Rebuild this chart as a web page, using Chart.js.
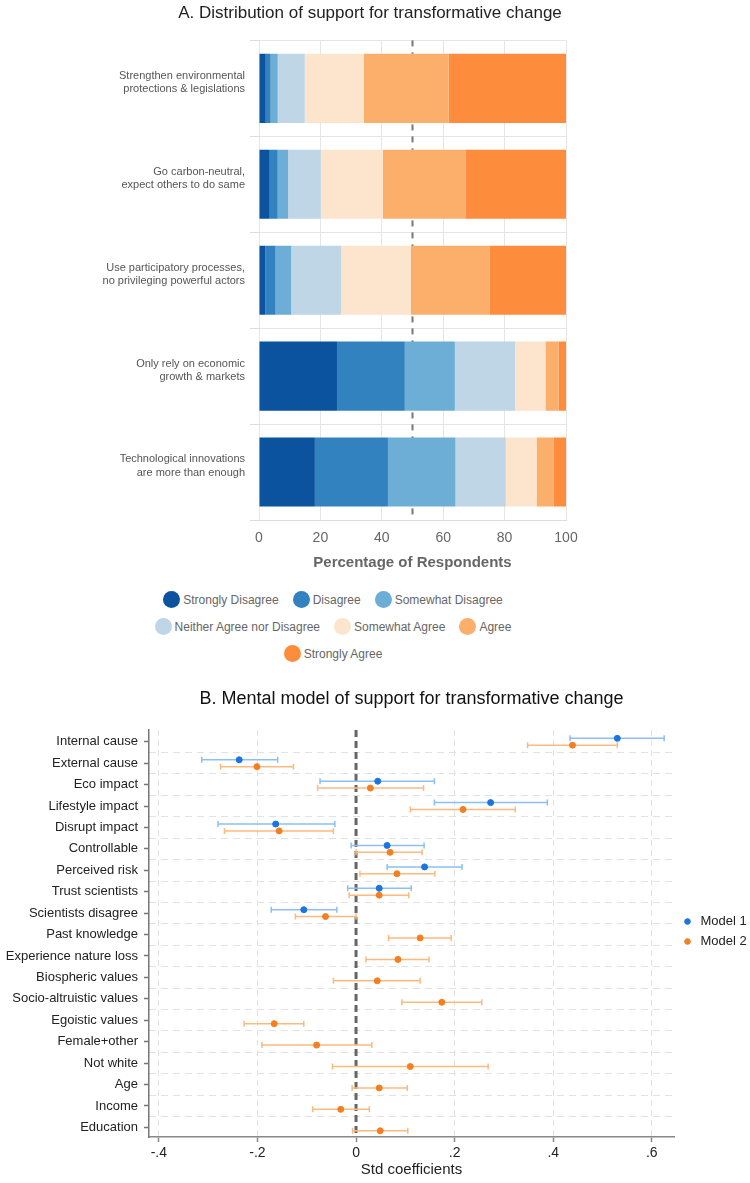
<!DOCTYPE html>
<html>
<head>
<meta charset="utf-8">
<script src="https://cdn.jsdelivr.net/npm/chart.js@4.4.1/dist/chart.umd.min.js"></script>
<style>
  body { margin: 0; background: #fff; width: 750px; height: 1183px; position: relative; overflow: hidden;
         font-family: "Liberation Sans", Arial, sans-serif; }
  #wrapA { position: absolute; left: 0; top: 0; width: 750px; height: 580px; }
  #wrapB { position: absolute; left: 0; top: 680px; width: 750px; height: 503px; }
  #legendA { position: absolute; left: 133px; top: 586px; width: 400px; display: flex; flex-wrap: wrap; justify-content: center; }
  .lg-item { display: flex; align-items: center; height: 27px; margin: 0 7px; font-size: 12px; color: #666; }
  .lg-dot { width: 17px; height: 17px; border-radius: 50%; margin-right: 3px; }
</style>
</head>
<body>
<div id="wrapA"><canvas id="chartA" width="750" height="580"></canvas></div>
<div id="legendA"></div>
<div id="wrapB"><canvas id="chartB" width="750" height="503"></canvas></div>
<script>
"use strict";
// ---- panel A: share of respondents per answer (percent) ----
const policyLabels = [
    ['Strengthen environmental', 'protections & legislations'],
    ['Go carbon-neutral,', 'expect others to do same'],
    ['Use participatory processes,', 'no privileging powerful actors'],
    ['Only rely on economic', 'growth & markets'],
    ['Technological innovations', 'are more than enough']
];
const responseLevels = ['Strongly Disagree', 'Disagree', 'Somewhat Disagree', 'Neither Agree nor Disagree',
    'Somewhat Agree', 'Agree', 'Strongly Agree'];
const levelColors = ['#0b539e', '#3282bf', '#6caed6', '#bed6e6', '#fde5cd', '#fcae6b', '#fd8d3c'];
const stronglyDisagree = [2.2, 3.5, 2.0, 25.4, 18.2];
const disagree = [1.6, 2.6, 3.4, 22.1, 23.8];
const somewhatDisagree = [2.3, 3.4, 5.1, 16.3, 22.0];
const neitherAgree = [8.8, 10.6, 16.3, 19.6, 16.4];
const somewhatAgree = [19.2, 20.2, 22.7, 9.9, 10.0];
const agree = [27.7, 27.1, 25.7, 4.3, 5.6];
const stronglyAgree = [38.2, 32.6, 24.8, 2.4, 4.0];
const levelValues = [stronglyDisagree, disagree, somewhatDisagree, neitherAgree, somewhatAgree, agree, stronglyAgree];

// ---- panel B: standardized coefficients with 95% CI ----
const predictors = ['Internal cause', 'External cause', 'Eco impact', 'Lifestyle impact', 'Disrupt impact',
    'Controllable', 'Perceived risk', 'Trust scientists', 'Scientists disagree', 'Past knowledge',
    'Experience nature loss', 'Biospheric values', 'Socio-altruistic values', 'Egoistic values',
    'Female+other', 'Not white', 'Age', 'Income', 'Education'];
const model1Coef = [0.530, -0.237, 0.044, 0.273, -0.163, 0.063, 0.139, 0.047, -0.106,
    null, null, null, null, null, null, null, null, null, null];
const model1Low = [0.434, -0.313, -0.073, 0.159, -0.280, -0.010, 0.063, -0.017, -0.172,
    null, null, null, null, null, null, null, null, null, null];
const model1High = [0.625, -0.159, 0.159, 0.388, -0.043, 0.138, 0.215, 0.112, -0.039,
    null, null, null, null, null, null, null, null, null, null];
const model2Coef = [0.439, -0.201, 0.029, 0.217, -0.156, 0.069, 0.083, 0.047, -0.062,
    0.130, 0.085, 0.043, 0.174, -0.166, -0.080, 0.110, 0.047, -0.031, 0.049];
const model2Low = [0.348, -0.275, -0.078, 0.110, -0.267, 0.000, 0.008, -0.014, -0.123,
    0.066, 0.020, -0.046, 0.093, -0.227, -0.191, -0.048, -0.008, -0.088, -0.007];
const model2High = [0.530, -0.127, 0.137, 0.323, -0.046, 0.134, 0.160, 0.107, 0.000,
    0.193, 0.148, 0.130, 0.255, -0.106, 0.032, 0.268, 0.104, 0.027, 0.105];
const coefTicks = [-0.4, -0.2, 0, 0.2, 0.4, 0.6];

const FONT = '"Liberation Sans", Arial, sans-serif';
Chart.defaults.font.family = FONT;

// vertical dashed reference line at a given x value
const refLinePlugin = {
    id: 'refLine',
    beforeDatasetsDraw(chart, args, opts) {
        const x = chart.scales.x.getPixelForValue(opts.value);
        const area = chart.chartArea;
        const ctx = chart.ctx;
        ctx.save();
        ctx.strokeStyle = opts.color;
        ctx.lineWidth = opts.width;
        ctx.setLineDash(opts.dash);
        ctx.beginPath();
        ctx.moveTo(x, area.top);
        ctx.lineTo(x, area.bottom);
        ctx.stroke();
        ctx.restore();
    }
};

// horizontal confidence interval whiskers under each point
const errorBarPlugin = {
    id: 'errorBars',
    beforeDatasetsDraw(chart, args, opts) {
        const ctx = chart.ctx;
        const xs = chart.scales.x;
        chart.data.datasets.forEach((ds, di) => {
            const meta = chart.getDatasetMeta(di);
            ctx.save();
            ctx.strokeStyle = ds.whiskerColor;
            ctx.lineWidth = opts.width;
            meta.data.forEach((pt, i) => {
                const d = ds.data[i];
                const x1 = xs.getPixelForValue(d.lo);
                const x2 = xs.getPixelForValue(d.hi);
                const y = pt.y;
                ctx.beginPath();
                ctx.moveTo(x1, y); ctx.lineTo(x2, y);
                ctx.moveTo(x1, y - opts.cap); ctx.lineTo(x1, y + opts.cap);
                ctx.moveTo(x2, y - opts.cap); ctx.lineTo(x2, y + opts.cap);
                ctx.stroke();
            });
            ctx.restore();
        });
    }
};

// ---------- chart A ----------
const chartA = new Chart(document.getElementById('chartA'), {
    type: 'bar',
    data: {
        labels: policyLabels,
        datasets: responseLevels.map((lvl, k) => ({
            label: lvl,
            data: levelValues[k],
            backgroundColor: levelColors[k],
            borderWidth: 0,
            barPercentage: 0.72,
            categoryPercentage: 1
        }))
    },
    options: {
        indexAxis: 'y',
        responsive: false,
        animation: false,
        layout: { padding: { left: 0, right: 10, top: 0, bottom: 0 } },
        plugins: {
            legend: { display: false },
            tooltip: { enabled: false },
            title: {
                display: true,
                text: 'A. Distribution of support for transformative change',
                color: '#222',
                font: { size: 17, weight: 'normal' },
                padding: { top: 3, bottom: 17 }
            },
            refLine: { value: 50, color: '#777', width: 2, dash: [6, 6] }
        },
        scales: {
            x: {
                stacked: true, min: 0, max: 100,
                ticks: { stepSize: 20, color: '#666', font: { size: 14 }, padding: 10 },
                grid: { color: '#e5e5e5', drawTicks: false },
                border: { color: '#ddd' },
                title: {
                    display: true, text: 'Percentage of Respondents', color: '#666',
                    font: { size: 15, weight: 'bold' }, padding: { top: 0, bottom: 8 }
                },
                afterFit: s => { s.height = 60; }
            },
            y: {
                stacked: true,
                ticks: { color: '#555', font: { size: 11 }, padding: 5, labelOffset: -6 },
                grid: { color: '#e5e5e5', tickLength: 9, tickColor: '#ddd' },
                border: { display: false },
                afterFit: s => { s.width = 259; }
            },
            // empty space to the right of the bars
            yPad: {
                type: 'linear', position: 'right',
                ticks: { display: false }, grid: { display: false }, border: { display: false },
                afterFit: s => { s.width = 174; }
            }
        }
    },
    plugins: [refLinePlugin]
});

// legend for A, built from the chart's datasets
const legendA = document.getElementById('legendA');
chartA.data.datasets.forEach(ds => {
    const item = document.createElement('div');
    item.className = 'lg-item';
    item.innerHTML = '<span class="lg-dot" style="background:' + ds.backgroundColor + '"></span>' + ds.label;
    legendA.appendChild(item);
});

// ---------- chart B ----------
function coefPoints(coef, low, high, shift) {
    return predictors.map((p, i) => ({ x: coef[i], y: i + shift, lo: low[i], hi: high[i] }))
        .filter(d => d.x !== null);
}
function fmtCoef(v) {
    const r = Math.round(v * 10) / 10;
    if (r === 0) return '0';
    return (r < 0 ? '-' : '') + String(Math.abs(r)).replace(/^0/, '');
}

new Chart(document.getElementById('chartB'), {
    type: 'scatter',
    data: {
        datasets: [
            {
                label: 'Model 1',
                data: coefPoints(model1Coef, model1Low, model1High, -0.16),
                backgroundColor: '#1b74e4', borderColor: '#1b74e4',
                whiskerColor: '#8dbff5',
                pointRadius: 3, pointStyle: 'circle'
            },
            {
                label: 'Model 2',
                data: coefPoints(model2Coef, model2Low, model2High, 0.16),
                backgroundColor: '#f57e20', borderColor: '#f57e20',
                whiskerColor: '#fbbb80',
                pointRadius: 3, pointStyle: 'circle'
            }
        ]
    },
    options: {
        responsive: false,
        animation: false,
        layout: { padding: 0 },
        plugins: {
            tooltip: { enabled: false },
            title: {
                display: true,
                fullSize: false,
                text: 'B. Mental model of support for transformative change',
                color: '#111',
                font: { size: 18, weight: 'normal' },
                padding: { top: 8, bottom: 20.4 }
            },
            legend: {
                position: 'right', align: 'center', maxWidth: 76,
                labels: {
                    usePointStyle: true, pointStyle: 'circle', boxWidth: 13, boxHeight: 4,
                    padding: 7, color: '#222', font: { size: 13 }
                }
            },
            refLine: { value: 0, color: '#666', width: 3, dash: [7, 4] },
            errorBars: { width: 1.5, cap: 3 }
        },
        scales: {
            x: {
                type: 'linear', min: -0.42, max: 0.645,
                afterBuildTicks: s => { s.ticks = coefTicks.map(v => ({ value: v })); },
                ticks: { callback: v => fmtCoef(v), color: '#222', font: { size: 14 }, padding: 3, maxRotation: 0, autoSkip: false },
                grid: {
                    color: c => (c.tick && c.tick.value === 0) ? 'rgba(0,0,0,0)' : '#e2e2e2',
                    tickColor: '#888', tickLength: 5, tickWidth: 1.5
                },
                border: { color: '#888', width: 1.5, dash: [6, 4] },
                title: {
                    display: true, text: 'Std coefficients', color: '#222',
                    font: { size: 15 }, padding: { top: 0, bottom: 4 }
                },
                afterFit: s => { s.height = 46; }
            },
            y: {
                type: 'linear', reverse: true, min: -0.55, max: 18.45,
                afterBuildTicks: s => { s.ticks = predictors.map((p, i) => ({ value: i })); },
                ticks: { callback: v => predictors[v], color: '#222', font: { size: 13 }, padding: 6, autoSkip: false },
                grid: { drawOnChartArea: false, tickColor: '#777', tickLength: 5, tickWidth: 1.5 },
                border: { color: '#777', width: 1.5 },
                afterFit: s => { s.width = 149; }
            },
            yGrid: {
                type: 'linear', reverse: true, min: -0.55, max: 18.45, position: 'left',
                afterBuildTicks: s => { s.ticks = predictors.slice(1).map((p, i) => ({ value: i + 0.5 })); },
                ticks: { display: false },
                grid: { color: '#e2e2e2', drawTicks: false },
                border: { display: false, dash: [7, 5] },
                afterFit: s => { s.width = 0; }
            }
        }
    },
    plugins: [refLinePlugin, errorBarPlugin]
});
</script>
</body>
</html>
